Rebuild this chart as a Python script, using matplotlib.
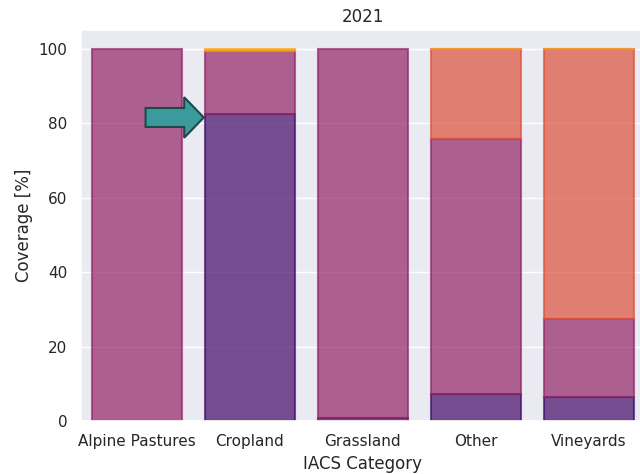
import matplotlib
matplotlib.use("Agg")
import matplotlib.pyplot as plt
import matplotlib.patches as mpatches
import numpy as np
import seaborn as sns

# data
categories = ["Alpine Pastures", "Cropland", "Grassland", "Other", "Vineyards"]
seg_dark = [0.0, 82.3, 0.8, 7.2, 6.4]
seg_mid = [100.0, 17.0, 99.1, 68.5, 21.0]
seg_red = [0.0, 0.1, 0.0, 24.1, 72.4]
seg_yellow = [0.0, 0.6, 0.0, 0.2, 0.2]
colors = ["#420a68", "#932667", "#dd513a", "#fca50a"]

arrow_y = 81.5

def main():
    sns.set_theme(style="darkgrid")
    fig = plt.figure(figsize=(6.4, 4.74), dpi=100)
    ax = fig.add_axes([0.126, 0.1118, 0.882, 0.825])

    x = np.arange(len(categories))
    bottom = np.zeros(len(categories))
    for vals, c in zip([seg_dark, seg_mid, seg_red, seg_yellow], colors):
        vals = np.array(vals)
        keep = vals > 0
        ax.bar(x[keep], vals[keep], bottom=bottom[keep], width=0.8, color=c,
               alpha=0.7, edgecolor=c, linewidth=1.5)
        bottom += vals

    # arrow pointing at cropland
    arr = mpatches.FancyArrow(1 - 0.925, arrow_y, 0.516, 0, width=5.1,
                              head_width=10.9, head_length=0.174,
                              length_includes_head=True,
                              facecolor="#3a9a9c", edgecolor="#1d4a47",
                              linewidth=1.5, zorder=5)
    ax.add_patch(arr)

    ax.grid(False, axis="x")
    ax.set_xticks(x)
    ax.set_xticklabels(categories)
    ax.set_xlim(-0.5, 4.5)
    ax.set_ylim(0, 105)
    ax.set_xlabel("IACS Category")
    ax.set_ylabel("Coverage [%]")
    ax.set_title("2021")
    fig.savefig("out.png", dpi=100)

if __name__ == "__main__":
    main()
